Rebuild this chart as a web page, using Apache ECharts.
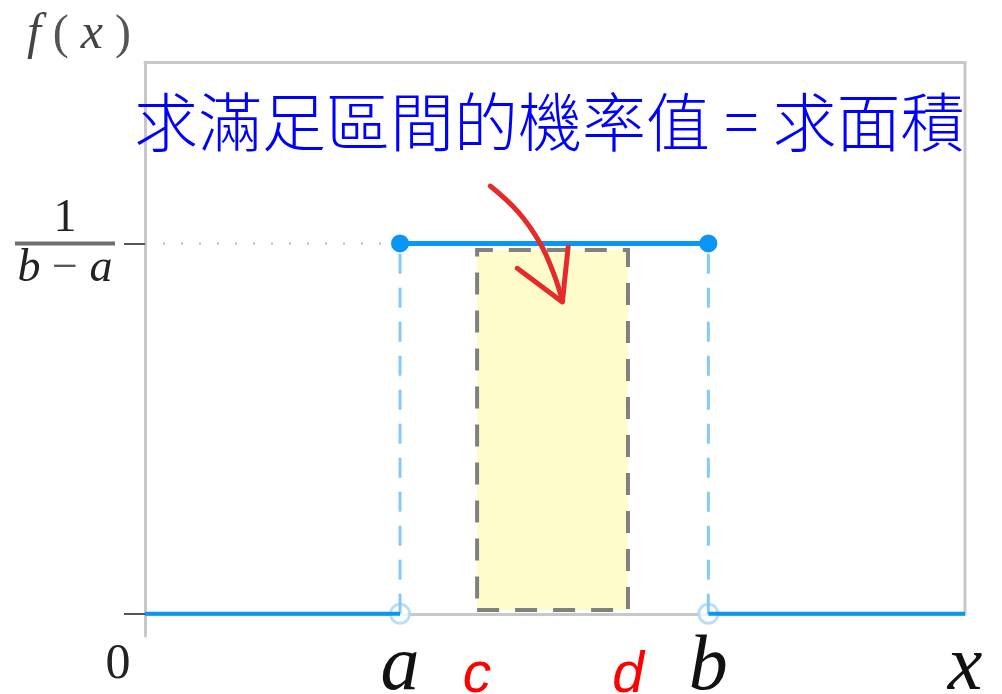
<!DOCTYPE html>
<html>
<head>
<meta charset="utf-8">
<script src="https://cdn.jsdelivr.net/npm/echarts@6/dist/echarts.min.js"></script>
<style>
  html, body { margin: 0; background: #fff; }
  #chart { width: 1002px; height: 694px; }
</style>
</head>
<body>
<div id="chart"></div>
<script>
// interval endpoints and the density height 1/(b-a)
const A = 3.11, B = 6.87, C = 4.05, D = 5.89, H = 1;
const X_MIN = 0, X_MAX = 10, Y_MIN = -0.06, Y_MAX = 1.49;

const xTicks = [0, A, C, D, B, X_MAX];
const xLabels = ['0', 'a', 'c', 'd', 'b', 'x'];
const yTicks = [0, H];
const yLabelValues = [H];

// the shaded event interval [c, d] (slightly inset from the density)
const shadeX = [C, D];
const shadeY = [0.01, 0.982];

// red hand-drawn arrow, in data units
const arrowShaft = [[4.21, 1.155], [4.55, 1.085], [4.82, 1.0], [4.99, 0.915], [5.09, 0.845]];
const arrowHead = [[4.54, 0.933], [5.09, 0.842], [5.16, 0.99]];

const titleText = '求滿足區間的機率值 = 求面積';

const BLUE = '#0a96f5';
const GRID = '#c8c8c8';

const chart = echarts.init(document.getElementById('chart'));

const option = {
  animation: false,
  title: {
    text: titleText,
    left: 129,
    top: 85,
    textStyle: {
      fontFamily: 'Noto Sans CJK TC',
      fontSize: 64,
      fontWeight: 300,
      color: '#0000ff'
    }
  },
  grid: { left: 145, right: 37, top: 62, bottom: 58, outerBoundsMode: 'none', containLabel: false },
  xAxis: [
    {
      type: 'value',
      min: X_MIN,
      max: X_MAX,
      axisLine: { onZero: true, lineStyle: { color: GRID, width: 3 } },
      axisTick: { show: false },
      splitLine: { show: false },
      axisLabel: {
        customValues: xTicks,
        margin: 12,
        formatter: (v) => {
          const lab = xLabels[xTicks.indexOf(v)] || '';
          const st = lab === '0' ? 'z' : (lab === 'c' || lab === 'd') ? 'r' : 'm';
          return '{' + st + '|' + lab + '}';
        },
        rich: {
          z: { fontFamily: 'Liberation Serif', fontSize: 50, lineHeight: 34, color: '#222', padding: [0, 54, 0, 0] },
          m: { fontFamily: 'Liberation Serif', fontStyle: 'italic', fontSize: 78, lineHeight: 40, color: '#111' },
          r: { fontFamily: 'Liberation Sans', fontStyle: 'italic', fontSize: 57, color: '#ff0000' }
        }
      }
    },
    {
      type: 'value',
      position: 'top',
      min: X_MIN,
      max: X_MAX,
      axisLine: { onZero: false, lineStyle: { color: GRID, width: 3 } },
      axisTick: { show: false },
      axisLabel: { show: false },
      splitLine: { show: false }
    }
  ],
  yAxis: {
    type: 'value',
    min: Y_MIN,
    max: Y_MAX,
    name: '{i|f} ( {i|x} )',
    nameLocation: 'end',
    nameGap: 27,
    nameTextStyle: {
      align: 'right',
      verticalAlign: 'middle',
      padding: [0, 14, 0, 0],
      fontFamily: 'Liberation Serif',
      fontSize: 48,
      color: '#555',
      rich: {
        i: { fontFamily: 'Liberation Serif', fontStyle: 'italic', fontSize: 50, color: '#444' }
      }
    },
    axisLine: { show: true, onZero: false, lineStyle: { color: GRID, width: 3 } },
    axisTick: {
      show: true,
      customValues: yTicks,
      length: 21,
      lineStyle: { color: '#555', width: 2 }
    },
    splitLine: { show: false },
    axisLabel: {
      customValues: yLabelValues,
      margin: 80,
      align: 'center',
      verticalAlign: 'middle',
      formatter: () => '{n|1}\n{bar|}\n{d|b}{o| − }{d|a}',
      rich: {
        n: { align: 'center', fontFamily: 'Liberation Serif', fontSize: 46, lineHeight: 46, color: '#222' },
        bar: { align: 'center', width: 100, height: 4, backgroundColor: '#6e6e6e' },
        d: { align: 'center', fontFamily: 'Liberation Serif', fontStyle: 'italic', fontSize: 46, lineHeight: 46, color: '#222' },
        o: { align: 'center', fontFamily: 'Liberation Serif', fontSize: 46, lineHeight: 46, color: '#555' }
      }
    }
  },
  series: [
    {
      // right border of the frame
      type: 'line',
      clip: false,
      symbol: 'none',
      silent: true,
      lineStyle: { color: GRID, width: 3 },
      data: [[X_MAX, 0], [X_MAX, Y_MAX]]
    },
    {
      type: 'line',
      symbol: 'none',
      silent: true,
      lineStyle: { color: '#bbb', width: 2, type: [2, 16] },
      data: [[X_MIN, H], [A, H]]
    },
    {
      type: 'line',
      symbol: 'none',
      silent: true,
      lineStyle: { color: '#86c8fa', width: 3, type: [20, 14] },
      data: [[A, 0], [A, H]]
    },
    {
      type: 'line',
      symbol: 'none',
      silent: true,
      lineStyle: { color: '#86c8fa', width: 3, type: [20, 14] },
      data: [[B, 0], [B, H]]
    },
    {
      // shaded probability region
      type: 'line',
      symbol: 'none',
      silent: true,
      data: [],
      markArea: {
        silent: true,
        itemStyle: {
          color: '#fffccc',
          borderColor: '#808080',
          borderWidth: 4,
          borderType: [22, 16]
        },
        data: [[{ coord: [shadeX[0], shadeY[0]] }, { coord: [shadeX[1], shadeY[1]] }]]
      }
    },
    {
      type: 'line',
      symbol: 'none',
      silent: true,
      lineStyle: { color: BLUE, width: 4 },
      data: [[X_MIN, 0], [A, 0]]
    },
    {
      type: 'line',
      symbol: 'none',
      silent: true,
      clip: false,
      lineStyle: { color: BLUE, width: 4 },
      data: [[B, 0], [X_MAX, 0]]
    },
    {
      type: 'line',
      symbol: 'circle',
      symbolSize: 18,
      silent: true,
      itemStyle: { color: BLUE },
      lineStyle: { color: BLUE, width: 5 },
      data: [[A, H], [B, H]]
    },
    {
      type: 'scatter',
      symbol: 'circle',
      symbolSize: 19,
      silent: true,
      itemStyle: { color: '#fff', borderColor: '#a8d6fb', borderWidth: 3 },
      data: [[A, 0], [B, 0]]
    },
    {
      type: 'line',
      symbol: 'none',
      smooth: 0.4,
      silent: true,
      lineStyle: { color: '#e62a2a', width: 5, cap: 'round' },
      data: arrowShaft
    },
    {
      type: 'line',
      symbol: 'none',
      silent: true,
      lineStyle: { color: '#e62a2a', width: 5, cap: 'round', join: 'round' },
      data: arrowHead
    }
  ]
};

chart.setOption(option);
window.addEventListener('resize', () => chart.resize());
</script>
</body>
</html>
